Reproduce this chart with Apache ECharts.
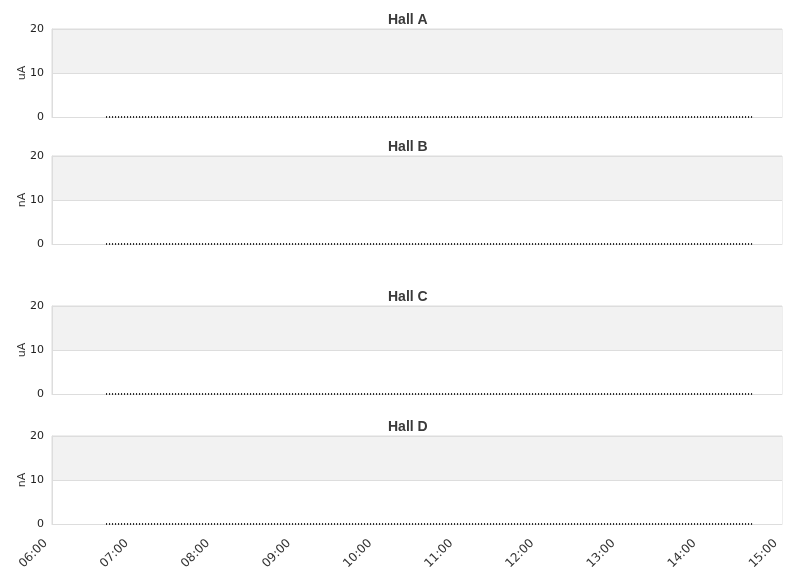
<!DOCTYPE html>
<html><head><meta charset="utf-8">
<script src="https://cdn.jsdelivr.net/npm/echarts@6/dist/echarts.min.js"></script>
<style>html,body{margin:0;padding:0;background:#fff}#c{width:811px;height:578px}</style>
</head><body><div id="c"></div>
<script>
var halls = ['Hall A', 'Hall B', 'Hall C', 'Hall D'];
var units = ['uA', 'nA', 'uA', 'nA'];
var gridTops = [29, 156, 306, 436];
var xMin = '2024-01-01 06:00';
var xMax = '2024-01-01 15:00';
var yTicks = [0, 10, 20];
var times = ['2024-01-01 06:40', '2024-01-01 14:39'];
var currentA = [0, 0];
var currentB = [0, 0];
var currentC = [0, 0];
var currentD = [0, 0];
var seriesValues = [currentA, currentB, currentC, currentD];

var chart = echarts.init(document.getElementById('c'));
var grids = [], xAxes = [], yAxes = [], series = [], titles = [];
halls.forEach(function (h, i) {
  var top = gridTops[i];
  titles.push({ text: h, left: 383, top: top - 21,
    textStyle: { fontSize: 14, fontWeight: 'bold', color: '#3a3a3a', fontFamily: 'Liberation Sans, Arial, sans-serif' } });
  grids.push({ left: 52, right: 29, top: top, height: 88, show: true, borderColor: '#ddd', borderWidth: 1, backgroundColor: 'transparent' });
  var last = i === halls.length - 1;
  xAxes.push({ type: 'time', gridIndex: i, min: xMin, max: xMax, interval: 3600 * 1000,
    axisLine: { show: true, lineStyle: { color: '#ddd' } }, axisTick: { show: false },
    splitLine: { show: false },
    axisLabel: { show: last, rotate: 45, color: '#333', fontSize: 12, margin: 11,
      fontFamily: 'DejaVu Sans', padding: [0, 9, 0, 0],
      hideOverlap: false, showMinLabel: true, showMaxLabel: true,
      formatter: function (v) { var d = new Date(v); var hh = d.getHours(); return (hh < 10 ? '0' : '') + hh + ':00'; } } });
  yAxes.push({ type: 'value', gridIndex: i, min: yTicks[0], max: yTicks[yTicks.length - 1], interval: 10,
    name: units[i], nameLocation: 'middle', nameGap: 24, nameRotate: 90, nameMoveOverlap: false,
    nameTextStyle: { color: '#333', fontSize: 11, fontFamily: 'DejaVu Sans' },
    axisLine: { show: true, lineStyle: { color: '#ddd' } }, axisTick: { show: false },
    axisLabel: { color: '#222', fontSize: 11, margin: 8, fontFamily: 'DejaVu Sans' },
    splitLine: { show: true, lineStyle: { color: '#ddd' } },
    splitArea: { show: true, areaStyle: { color: ['#ffffff', '#f2f2f2'] } } });
  series.push({ type: 'line', xAxisIndex: i, yAxisIndex: i, showSymbol: false, symbol: 'none',
    data: times.map(function (t, k) { return [t, seriesValues[i][k]]; }),
    lineStyle: { color: '#222', width: 2, type: [1, 2] }, animation: false });
});
chart.setOption({ animation: false, title: titles, grid: grids, xAxis: xAxes, yAxis: yAxes, series: series });
</script></body></html>
